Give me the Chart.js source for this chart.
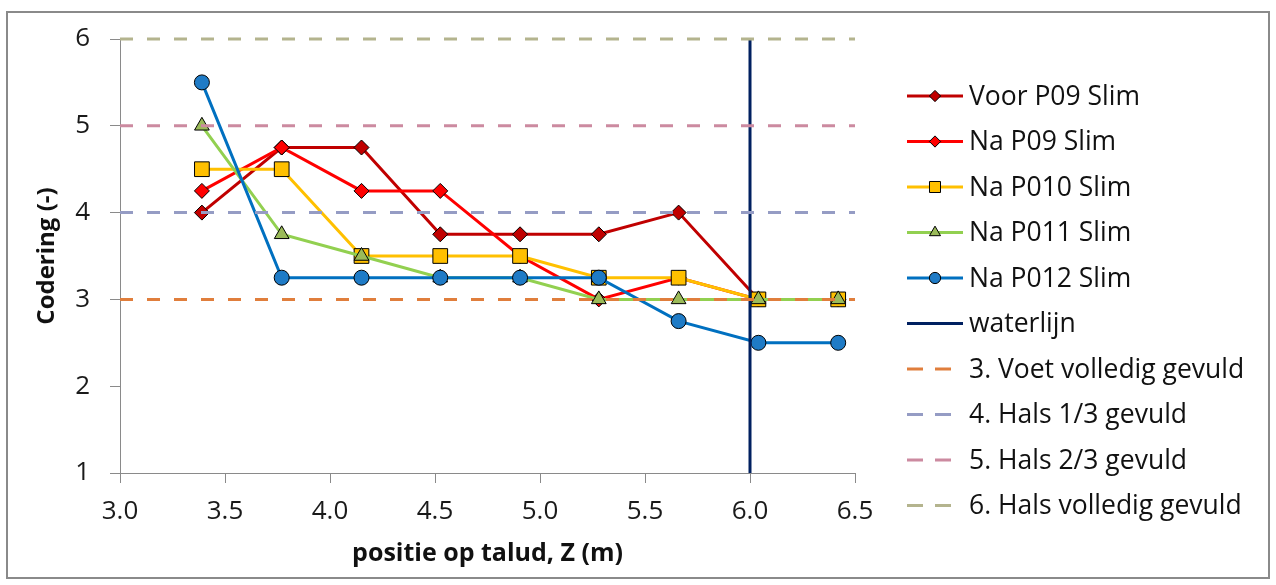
<!DOCTYPE html>
<html>
<head>
<meta charset="utf-8">
<script src="https://cdn.jsdelivr.net/npm/chart.js@4.4.0/dist/chart.umd.min.js"></script>
<style>
  html, body { margin: 0; padding: 0; background: #fff; }
  #wrap { width: 1276px; height: 585px; }
</style>
</head>
<body>
<div id="wrap"><canvas id="taludChart" width="1276" height="585"></canvas></div>
<script>
// positie op talud (m)
const positions = [3.39, 3.77, 4.15, 4.525, 4.905, 5.28, 5.66, 6.04, 6.42];
// codering per meting
const voorP09 = [4.0, 4.75, 4.75, 3.75, 3.75, 3.75, 4.0, 3.0, 3.0];
const naP09   = [4.25, 4.75, 4.25, 4.25, 3.5, 3.0, 3.25, 3.0, 3.0];
const naP010  = [4.5, 4.5, 3.5, 3.5, 3.5, 3.25, 3.25, 3.0, 3.0];
const naP011  = [5.0, 3.75, 3.5, 3.25, 3.25, 3.0, 3.0, 3.0, 3.0];
const naP012  = [5.5, 3.25, 3.25, 3.25, 3.25, 3.25, 2.75, 2.5, 2.5];
const waterlijnZ = 6.0;
const levelValues = [3, 4, 5, 6];
const levelLabels = ['3. Voet volledig gevuld', '4. Hals 1/3 gevuld', '5. Hals 2/3 gevuld', '6. Hals volledig gevuld'];
const xRange = [3.0, 6.5];
const yRange = [1, 6];

const toPoints = vals => vals.map((v, i) => ({x: positions[i], y: v}));

function serie(label, vals, line, fill, style, radius) {
  return {
    label: label,
    data: toPoints(vals),
    borderColor: line,
    backgroundColor: fill,
    borderWidth: 3,
    pointStyle: style,
    pointRadius: radius,
    pointBorderColor: '#000',
    pointBorderWidth: 1,
    pointBackgroundColor: fill,
    tension: 0,
    clip: false
  };
}

const levelColors = ['#E07E3C', '#959CC4', '#CC8AA0', '#B4B48E'];

const datasets = [
  serie('Voor P09 Slim', voorP09, '#C00000', '#C00000', 'rectRot', 7.5),
  serie('Na P09 Slim', naP09, '#FF0000', '#FF0000', 'rectRot', 7.5),
  serie('Na P010 Slim', naP010, '#FFC000', '#FFC000', 'rect', 10.4),
  serie('Na P011 Slim', naP011, '#92D050', '#9BBB59', 'triangle', 8.5),
  serie('Na P012 Slim', naP012, '#0070C0', '#1F7BC6', 'circle', 7.5),
  {
    label: 'waterlijn',
    data: [{x: waterlijnZ, y: yRange[0]}, {x: waterlijnZ, y: yRange[1]}],
    borderColor: '#002060',
    borderWidth: 3,
    pointRadius: 0,
    clip: false
  }
];
levelValues.forEach((lv, i) => {
  datasets.push({
    label: levelLabels[i],
    data: [{x: xRange[0], y: lv}, {x: xRange[1], y: lv}],
    borderColor: levelColors[i],
    borderWidth: 3,
    borderDash: [13, 14],
    pointRadius: 0,
    clip: false
  });
});
// later series on top, like the original
datasets.forEach((d, i) => { d.order = -i; });

const framePlugin = {
  id: 'frame',
  beforeDraw(chart) {
    const c = chart.ctx;
    c.save();
    c.fillStyle = '#fff';
    c.fillRect(0, 0, chart.width, chart.height);
    c.strokeStyle = '#8a8a8a';
    c.lineWidth = 2;
    c.strokeRect(7, 12, 1262, 566);
    c.restore();
  }
};

const sideLegend = {
  id: 'sideLegend',
  afterDraw(chart) {
    const c = chart.ctx;
    const x0 = 907, x1 = 963, tx = 969;
    let y = 96;
    c.save();
    chart.data.datasets.forEach(ds => {
      c.beginPath();
      c.setLineDash(ds.borderDash ? [16, 12] : []);
      c.strokeStyle = ds.borderColor;
      c.lineWidth = 3;
      c.moveTo(x0, y);
      c.lineTo(x1, y);
      c.stroke();
      c.setLineDash([]);
      if (ds.pointRadius) {
        c.fillStyle = ds.pointBackgroundColor;
        c.strokeStyle = '#000';
        c.lineWidth = 1;
        Chart.helpers.drawPoint(c, {pointStyle: ds.pointStyle, radius: ds.pointRadius * 0.75, borderWidth: 1}, (x0 + x1) / 2, y);
      }
      c.fillStyle = '#111';
      c.font = '26.5px "Open Sans"';
      c.textBaseline = 'middle';
      c.fillText(ds.label, tx, y + 1);
      y += 45.5;
    });
    c.restore();
  }
};

new Chart('taludChart', {
  type: 'line',
  data: { datasets: datasets },
  options: {
    responsive: false,
    animation: false,
    layout: { padding: { top: 39, right: 421, bottom: 0, left: 0 } },
    plugins: { legend: { display: false }, tooltip: { enabled: false } },
    scales: {
      x: {
        type: 'linear',
        min: xRange[0],
        max: xRange[1],
        afterFit: s => { s.height = 112; },
        ticks: {
          stepSize: 0.5,
          color: '#1a1a1a',
          font: { family: 'Open Sans', size: 26 },
          padding: 13,
          maxRotation: 0,
          callback: v => v.toFixed(1)
        },
        grid: { drawOnChartArea: false, drawTicks: true, tickLength: 10, color: '#8a8a8a' },
        border: { color: '#8a8a8a', width: 1 },
        title: {
          display: true,
          text: 'positie op talud, Z (m)',
          color: '#111',
          font: { family: 'Open Sans', size: 25, weight: 'bold' },
          padding: { top: 0, bottom: 16 }
        }
      },
      y: {
        min: yRange[0],
        max: yRange[1],
        afterFit: s => { s.width = 120; },
        ticks: {
          stepSize: 1,
          color: '#1a1a1a',
          font: { family: 'Open Sans', size: 26 },
          padding: 20
        },
        grid: { drawOnChartArea: false, drawTicks: true, tickLength: 10, color: '#8a8a8a' },
        border: { color: '#8a8a8a', width: 1 },
        title: {
          display: true,
          text: 'Codering (-)',
          color: '#111',
          font: { family: 'Open Sans', size: 24, weight: 'bold' },
          padding: { top: 33, bottom: 0 }
        }
      }
    }
  },
  plugins: [framePlugin, sideLegend]
});
</script>
</body>
</html>
